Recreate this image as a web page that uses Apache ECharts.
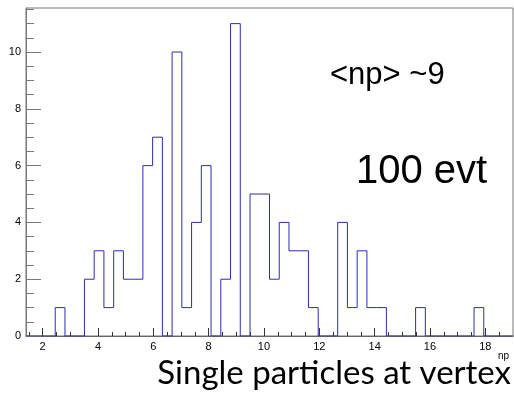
<!DOCTYPE html>
<html>
<head>
<meta charset="utf-8">
<script src="https://cdn.jsdelivr.net/npm/echarts@6/dist/echarts.min.js"></script>
<style>
  html, body { margin: 0; padding: 0; background: #fff; }
  #chart { width: 514px; height: 395px; }
</style>
</head>
<body>
<div id="chart"></div>
<script>
// histogram binning: 50 bins between xMin and xMax
const xMin = 1.4;
const xMax = 19.0;
const nBins = 50;
const yMax = 11.55;

// entries per bin
const counts = [
  0, 0, 0, 1, 0, 0, 2, 3, 1, 3,
  2, 2, 6, 7, 0, 10, 1, 4, 6, 0,
  2, 11, 0, 5, 5, 2, 4, 3, 3, 1,
  0, 0, 4, 1, 3, 1, 1, 0, 0, 0,
  1, 0, 0, 0, 0, 0, 1, 0, 0, 0
];

const xMajorTicks = [2, 4, 6, 8, 10, 12, 14, 16, 18];
const xMinorTicks = [1.5, 2.5, 3, 3.5, 4.5, 5, 5.5, 6.5, 7, 7.5, 8.5, 9, 9.5, 10.5, 11, 11.5,
  12.5, 13, 13.5, 14.5, 15, 15.5, 16.5, 17, 17.5, 18.5];
const yMajorTicks = [0, 2, 4, 6, 8, 10];
const yMinorTicks = [0.5, 1, 1.5, 2.5, 3, 3.5, 4.5, 5, 5.5, 6.5, 7, 7.5, 8.5, 9, 9.5, 10.5, 11, 11.5];

const binWidth = (xMax - xMin) / nBins;
const stepData = counts.map((c, i) => [xMin + i * binWidth, c]);
stepData.push([xMax, 0]);

const chart = echarts.init(document.getElementById('chart'), null, { renderer: 'canvas' });

const tickFont = { fontFamily: 'Liberation Sans', fontSize: 11, color: '#000' };

const option = {
  animation: false,
  backgroundColor: '#fff',
  grid: {
    left: 26, top: 8, width: 487, height: 328,
    show: true, borderColor: '#777', borderWidth: 1
  },
  xAxis: [
    {
      type: 'value', min: xMin, max: xMax,
      axisLine: { show: true, onZero: false, lineStyle: { color: '#666' } },
      axisTick: { show: true, inside: true, length: 8, customValues: xMajorTicks, lineStyle: { color: '#333' } },
      axisLabel: { show: true, customValues: xMajorTicks, margin: 5, ...tickFont },
      splitLine: { show: false }
    },
    {
      type: 'value', min: xMin, max: xMax, position: 'bottom',
      axisLine: { show: false },
      axisTick: { show: true, inside: true, length: 4, customValues: xMinorTicks, lineStyle: { color: '#333' } },
      axisLabel: { show: false },
      splitLine: { show: false }
    }
  ],
  yAxis: [
    {
      type: 'value', min: 0, max: yMax,
      axisLine: { show: true, onZero: false, lineStyle: { color: '#777' } },
      axisTick: { show: true, inside: true, length: 15, customValues: yMajorTicks, lineStyle: { color: '#777' } },
      axisLabel: { show: true, customValues: yMajorTicks, margin: 5, ...tickFont },
      splitLine: { show: false }
    },
    {
      type: 'value', min: 0, max: yMax, position: 'left',
      axisLine: { show: false },
      axisTick: { show: true, inside: true, length: 8, customValues: yMinorTicks, lineStyle: { color: '#777' } },
      axisLabel: { show: false },
      splitLine: { show: false }
    }
  ],
  series: [
    {
      type: 'line',
      step: 'end',
      xAxisIndex: 0,
      yAxisIndex: 0,
      data: stepData,
      symbol: 'none',
      lineStyle: { color: '#2b2bb5', width: 1 },
      z: 3
    }
  ],
  graphic: [
    {
      type: 'text', left: 330, top: 60,
      style: { text: '<np> ~9', fontFamily: 'Liberation Sans', fontSize: 31, fill: '#000' }
    },
    {
      type: 'text', left: 356, top: 152,
      style: { text: '100 evt', fontFamily: 'Liberation Sans', fontSize: 40, fill: '#000' }
    },
    {
      type: 'text', right: 5, top: 351,
      style: { text: 'np', fontFamily: 'Liberation Sans', fontSize: 10, fill: '#000' }
    },
    {
      type: 'text', right: 3, top: 357,
      style: { text: 'Single particles at vertex', fontFamily: 'Lato', fontSize: 33, fill: '#000' }
    }
  ]
};

chart.setOption(option);
</script>
</body>
</html>
